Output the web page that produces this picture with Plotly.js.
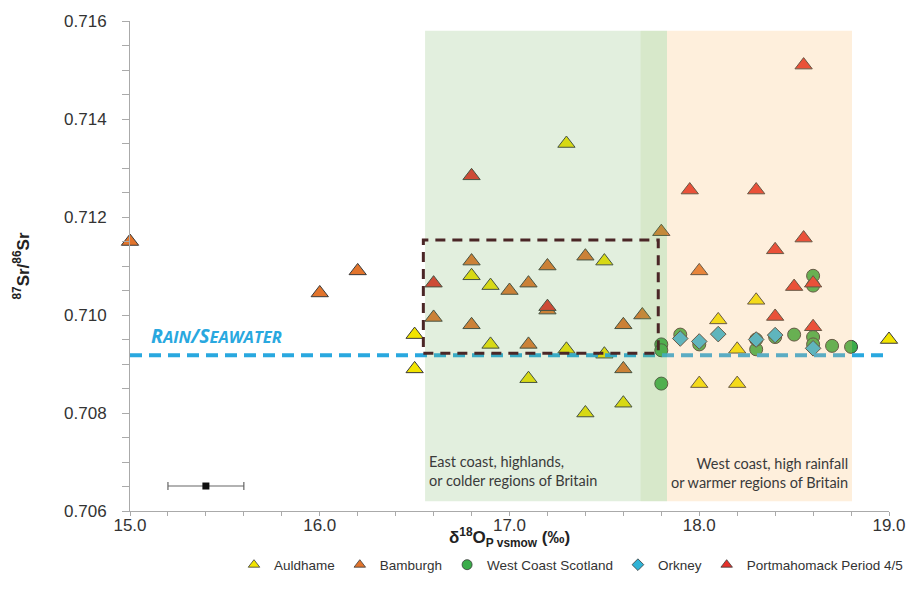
<!DOCTYPE html>
<html>
<head>
<meta charset="utf-8">
<script src="https://cdn.plot.ly/plotly-3.0.1.min.js"></script>
<style>html,body{margin:0;padding:0;background:#fff;}#chart{width:922px;height:603px;}</style>
</head>
<body>
<div id="chart"></div>
<script>
// ---- data ----
const auldhameX = [16.5, 16.5, 16.8, 16.9, 16.9, 17.1, 17.3, 17.3, 17.4, 17.5, 17.5, 17.6, 18.0, 18.1, 18.2, 18.2, 18.3, 19.0];
const auldhameY = [0.7096, 0.7089, 0.7108, 0.7106, 0.7094, 0.7087, 0.7135, 0.7093, 0.7080, 0.7111, 0.7092, 0.7082, 0.7086, 0.7099, 0.7093, 0.7086, 0.7103, 0.7095];

const bamburghX = [15.0, 16.0, 16.2, 16.6, 16.8, 16.8, 17.0, 17.1, 17.1, 17.2, 17.2, 17.4, 17.6, 17.6, 17.7, 17.8, 18.0];
const bamburghY = [0.7115, 0.71045, 0.7109, 0.70995, 0.7111, 0.7098, 0.7105, 0.71065, 0.7094, 0.7110, 0.7101, 0.7112, 0.7098, 0.7089, 0.7100, 0.7117, 0.7109];

const westCoastX = [17.8, 17.8, 17.8, 17.9, 18.0, 18.3, 18.3, 18.4, 18.5, 18.6, 18.6, 18.6, 18.6, 18.7, 18.8];
const westCoastY = [0.7094, 0.70928, 0.7086, 0.7096, 0.7094, 0.7093, 0.7095, 0.70955, 0.7096, 0.7108, 0.7106, 0.70955, 0.7094, 0.70937, 0.70935];

const orkneyX = [17.9, 18.0, 18.1, 18.3, 18.4, 18.6];
const orkneyY = [0.70952, 0.70946, 0.70961, 0.7095, 0.70959, 0.70932];

const portX = [16.6, 16.8, 17.2, 17.95, 18.3, 18.4, 18.4, 18.5, 18.55, 18.55, 18.6, 18.6];
const portY = [0.71065, 0.71284, 0.71017, 0.71255, 0.71255, 0.71133, 0.70997, 0.71058, 0.71157, 0.7151, 0.71065, 0.70976];

const errX = [15.4];
const errY = [0.70651];
const errHalf = [0.2];

const rainX = [15.0, 19.02];
const rainY = [0.70918, 0.70918];

const seriesNames = ["Auldhame", "Bamburgh", "West Coast Scotland", "Orkney", "Portmahomack Period 4/5"];
const seriesSymbols = ["triangle-up", "triangle-up", "circle", "diamond", "triangle-up"];
const seriesColors = ["#f2e400", "#e2742c", "#3aac4a", "#2fb3d6", "#e5302a"];

// tick labels
const xTickVals = [];
for (let i = 0; i <= 20; i++) xTickVals.push(+(15 + i * 0.2).toFixed(1));
const xTickText = xTickVals.map(v => (Math.abs(v - Math.round(v)) < 1e-9 ? v.toFixed(1) : ""));
const yTickVals = [];
for (let i = 0; i <= 20; i++) yTickVals.push(+(0.706 + i * 0.0005).toFixed(4));
const yTickText = yTickVals.map((v, i) => (i % 4 === 0 ? v.toFixed(3) : ""));

const edge = {color: "#3a3a3a", width: 1};
function pts(xs, ys, idx, size) {
  return {x: xs, y: ys, name: seriesNames[idx], type: "scatter", mode: "markers", showlegend: false,
    marker: {symbol: seriesSymbols[idx], size: size, color: seriesColors[idx], line: edge}, cliponaxis: false};
}
const traces = [
  pts(bamburghX, bamburghY, 1, 15),
  pts(auldhameX, auldhameY, 0, 15),
  pts(westCoastX, westCoastY, 2, 13),
  pts(orkneyX, orkneyY, 3, 12),
  pts(portX, portY, 4, 15),
  {x: rainX, y: rainY, type: "scatter", mode: "lines", showlegend: false, hoverinfo: "skip",
   line: {color: "#29a8df", width: 4, dash: "12px,7px"}, cliponaxis: false},
  {x: errX, y: errY, type: "scatter", mode: "markers", showlegend: false,
   marker: {symbol: "square", size: 7, color: "#111"},
   error_x: {type: "data", array: errHalf, color: "#666", thickness: 1.2, width: 4}}
];
// legend entries (small symbols, as in the reference key)
seriesNames.forEach((n, i) => {
  traces.push({x: [null], y: [null], name: n, type: "scatter", mode: "markers", showlegend: true,
    marker: {symbol: seriesSymbols[i], size: i === 3 ? 9 : 10, color: seriesColors[i], line: {color: "#3a3a3a", width: 0.8}}});
});

const W = 922;
const bandY0 = 0.7062, bandY1 = 0.7158;
const layout = {
  width: W, height: 603,
  margin: {l: 0, r: 0, t: 21, b: 92, autoexpand: false},
  paper_bgcolor: "#fff", plot_bgcolor: "#fff",
  font: {family: "Arial, 'Liberation Sans', sans-serif", color: "#333"},
  xaxis: {
    domain: [130 / W, 889 / W],
    range: [15, 19], tickmode: "array", tickvals: xTickVals, ticktext: xTickText,
    ticks: "outside", ticklen: 4, tickcolor: "#aaa", showline: true, linecolor: "#aaa", linewidth: 1,
    showgrid: false, zeroline: false, tickfont: {size: 17, color: "#333"}, ticklabelstandoff: -5, automargin: false
  },
  yaxis: {
    anchor: "x", automargin: false,
    range: [0.706, 0.716], tickmode: "array", tickvals: yTickVals, ticktext: yTickText,
    ticks: "outside", ticklen: 7, tickcolor: "#aaa", showline: true, linecolor: "#aaa", linewidth: 1,
    showgrid: false, zeroline: false, tickfont: {size: 17, color: "#333"}, ticklabelstandoff: 12,
    title: {text: "<b><sup>87</sup>Sr/<sup>86</sup>Sr</b>", font: {size: 17, color: "#222"}, standoff: 30}
  },
  showlegend: true,
  legend: {orientation: "h", x: 234 / W, xanchor: "left", y: -0.11, yanchor: "middle",
    font: {size: 13.5, color: "#333"}, traceorder: "normal", itemwidth: 30},
  shapes: [
    {type: "rect", layer: "above", xref: "x", yref: "y", x0: 16.555, x1: 17.69, y0: bandY0, y1: bandY1,
     fillcolor: "rgba(120,180,100,0.21)", line: {width: 0}},
    {type: "rect", layer: "above", xref: "x", yref: "y", x0: 17.69, x1: 17.83, y0: bandY0, y1: bandY1,
     fillcolor: "rgba(130,185,90,0.32)", line: {width: 0}},
    {type: "rect", layer: "above", xref: "x", yref: "y", x0: 17.83, x1: 18.805, y0: bandY0, y1: bandY1,
     fillcolor: "rgba(252,190,110,0.24)", line: {width: 0}},
    {type: "rect", layer: "above", xref: "x", yref: "y", x0: 16.546, x1: 17.784, y0: 0.70922, y1: 0.71153,
     fillcolor: "rgba(0,0,0,0)", line: {color: "#4a2626", width: 3, dash: "10px,7px"}}
  ],
  annotations: [
    {xref: "x", yref: "paper", x: 17.0, y: -0.055, xanchor: "center", yanchor: "middle", showarrow: false,
     text: "<b>δ<sup>18</sup>O<sub>P vsmow</sub> (‰)</b>", font: {size: 17, color: "#222"}},
    {xref: "x", yref: "y", x: 15.1, y: 0.70926, xanchor: "left", yanchor: "bottom", showarrow: false,
     text: "<b><i>R<span style='font-size:16.5px'>AIN</span>/S<span style='font-size:16.5px'>EAWATER</span></i></b>",
     font: {family: "'Open Sans', Lato, sans-serif", size: 19.5, color: "#29a8df"}},
    {xref: "x", yref: "y", x: 16.565, y: 0.70681, xanchor: "left", yanchor: "middle", showarrow: false, align: "left",
     text: "East coast, highlands,<br>or colder regions of Britain",
     font: {family: "Lato, 'Open Sans', sans-serif", size: 14.5, color: "#3a3a3a"}},
    {xref: "x", yref: "y", x: 18.795, y: 0.70678, xanchor: "right", yanchor: "middle", showarrow: false, align: "right",
     text: "West coast, high rainfall<br>or warmer regions of Britain",
     font: {family: "Lato, 'Open Sans', sans-serif", size: 14.5, color: "#3a3a3a"}}
  ]
};

Plotly.newPlot("chart", traces, layout, {displayModeBar: false, staticPlot: true});
</script>
</body>
</html>
